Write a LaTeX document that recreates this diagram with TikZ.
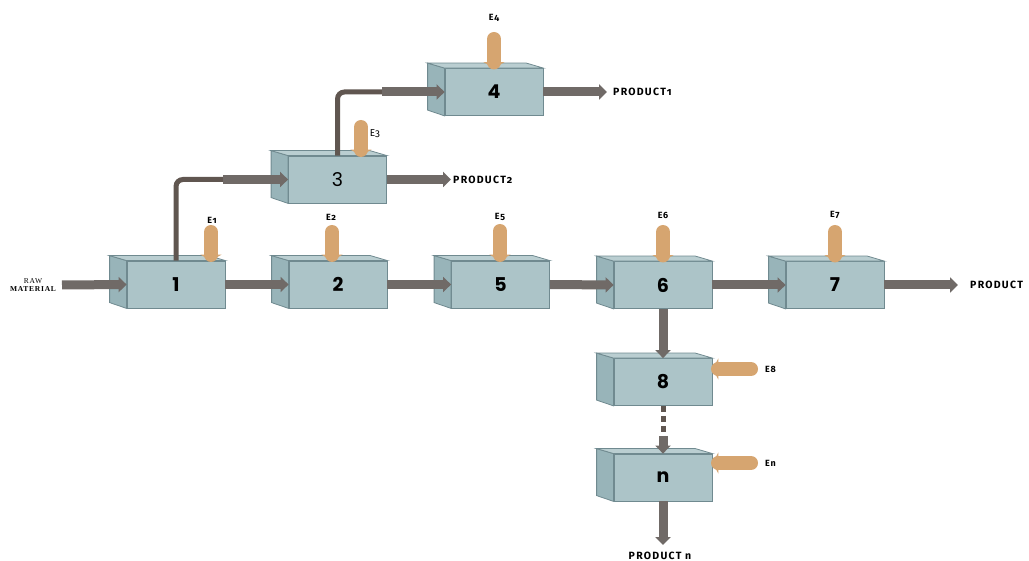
\documentclass[tikz,border=0pt]{standalone}
\usepackage{fontspec}
\setmainfont{Fira Sans}[Numbers=OldStyle]
\newfontfamily\numfont{Poppins}
\newfontfamily\serfont{Liberation Serif}
\usetikzlibrary{arrows.meta}
\definecolor{front}{RGB}{172,196,200}
\definecolor{side}{RGB}{152,180,185}
\definecolor{topc}{RGB}{186,206,209}
\definecolor{edge}{RGB}{112,138,144}
\definecolor{flow}{RGB}{112,106,103}
\definecolor{pipe}{RGB}{96,86,80}
\definecolor{energy}{RGB}{214,165,112}
\tikzset{
  pbox/.style={draw=edge, fill=front, line width=0.8pt, minimum width=98pt, minimum height=47pt,
    inner sep=0pt, font=\numfont\bfseries\fontsize{19}{19}\selectfont},
  flowarr/.style={draw=flow, line width=9pt, -{Triangle[width=15pt,length=8pt]}},
  pipeline/.style={draw=pipe, line width=5pt, rounded corners=7pt},
  dotflow/.style={draw=pipe, line width=5pt, dash pattern=on 6pt off 4pt},
  earr/.style={draw=energy, line width=14pt, line cap=round, -{Triangle[width=21pt,length=6pt]}},
  elabel/.style={font=\bfseries\addfontfeature{LetterSpace=8}\fontsize{9}{9}\selectfont, inner sep=0pt},
  plabel/.style={font=\bfseries\addfontfeature{LetterSpace=12}\fontsize{10.5}{11}\selectfont, inner sep=0pt, anchor=west},
}
\newcommand{\boxfaces}[1]{%
  \filldraw[fill=side, draw=edge, line width=0.8pt] (#1.north west) -- ++(-17,-5) -- ++(0,47) -- (#1.south west) -- cycle;
  \filldraw[fill=topc, draw=edge, line width=0.8pt] (#1.north west) -- ++(-17,-5) -- ([shift={(-17,-5)}]#1.north east) -- (#1.north east) -- cycle;
}
\begin{document}
\begin{tikzpicture}[x=1pt, y=-1pt]
\useasboundingbox (0,0) rectangle (1029,561);
% process boxes (front faces)
\node[pbox] (b1) at (176,284.5) {1};
\node[pbox] (b2) at (338,284.5) {2};
\node[pbox] (b5) at (500.5,284.5) {5};
\node[pbox] (b6) at (663,285) {6};
\node[pbox] (b7) at (835,285) {7};
\node[pbox] (b3) at (337.5,179.5) {\mdseries 3};
\node[pbox] (b4) at (494,92) {4};
\node[pbox] (b8) at (663,382) {8};
\node[pbox] (bn) at (663,477.5) {n};
\foreach \b in {b1,b2,b5,b6,b7,b3,b4,b8,bn} {\boxfaces{\b}}
% free ends
\coordinate (raw) at (62,285);
\coordinate (c1) at (223,179.5);
\coordinate (c2) at (382,92);
\coordinate (p2) at (451,179.5);
\coordinate (p1) at (607,92);
\coordinate (p7) at (958,285);
\coordinate (pn) at (663,545);
\coordinate (d) at (663,436);
% main flow
\draw[flowarr] (raw) -- (b1.west);
\draw[flowarr] (b1.east) -- (b2.west);
\draw[flowarr] (b2.east) -- (b5.west);
\draw[flowarr] (b5.east) -- (b6.west);
\draw[flowarr] (b6.east) -- (b7.west);
\draw[flowarr] (b7.east) -- (p7);
% branches
\draw[pipeline] (b1.north) |- (c1);
\draw[flowarr] (c1) -- (b3.west);
\draw[pipeline] (b3.north) |- (c2);
\draw[flowarr] (c2) -- (b4.west);
\draw[flowarr] (b3.east) -- (p2);
\draw[flowarr] (b4.east) -- (p1);
% vertical chain
\draw[flowarr] (b6.south) -- (b8.north);
\draw[dotflow] (b8.south) -- (d);
\draw[flowarr] (d) -- (bn.north);
\draw[flowarr] (bn.south) -- (pn);
% energy inputs
\coordinate (e1) at (211,232);
\coordinate (e2) at (332,232);
\coordinate (e5) at (500,231);
\coordinate (e6) at (663,232);
\coordinate (e7) at (835,232);
\coordinate (e3) at (361,127);
\coordinate (e4) at (494,39);
\coordinate (e8) at (751,369);
\coordinate (en) at (751,463);
\draw[earr] (e1) -- (e1 |- b1.north);
\draw[earr] (e2) -- (e2 |- b2.north);
\draw[earr] (e5) -- (e5 |- b5.north);
\draw[earr] (e6) -- (e6 |- b6.north);
\draw[earr] (e7) -- (e7 |- b7.north);
\draw[earr] (e3) -- (e3 |- b3.north);
\draw[earr] (e4) -- (e4 |- b4.north);
\draw[earr] (e8) -- (e8 -| b8.east);
\draw[earr] (en) -- (en -| bn.east);
% labels
\node[elabel] (l1) at (212,220) {E1};
\node[elabel] (l2) at (331,217) {E2};
\node[elabel] (l5) at (500,217) {E5};
\node[elabel] (l6) at (663,215) {E6};
\node[elabel] (l7) at (835,215) {E7};
\node[elabel, font=\mdseries\fontsize{10}{10}\selectfont] (l3) at (375,134) {E3};
\node[elabel] (l4) at (494,18) {E4};
\node[elabel, anchor=west] (l8) at (765,369) {E8};
\node[elabel, anchor=west] (ln) at (765,463) {En};
\node[plabel] (t2) at (453,180) {PRODUCT2};
\node[plabel] (t1) at (613,92) {PRODUCT1};
\node[plabel] (t7) at (970,285) {PRODUCT};
\node[plabel, anchor=center] (tn) at (660,556) {PRODUCT n};
\node[font=\serfont\addfontfeature{LetterSpace=10}\fontsize{7.5}{8.5}\selectfont, align=center, inner sep=0pt] (rm) at (33,285) {RAW\\\bfseries MATERIAL};
\end{tikzpicture}
\end{document}
